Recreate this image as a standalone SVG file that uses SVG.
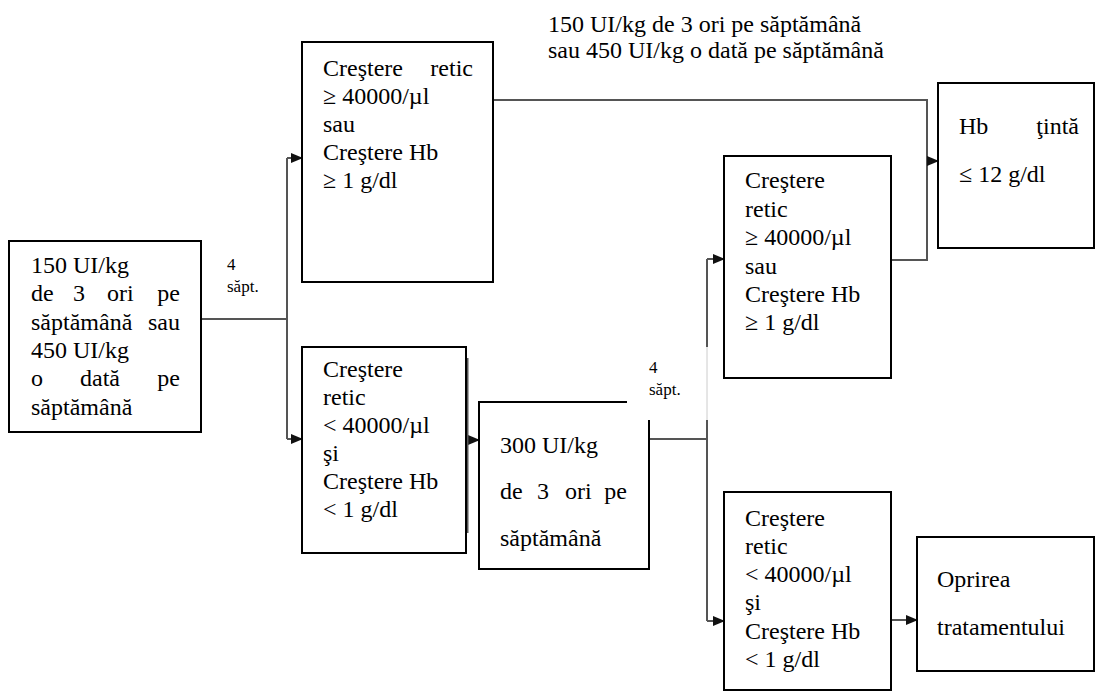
<svg xmlns="http://www.w3.org/2000/svg" width="1099" height="693" viewBox="0 0 1099 693">
<style>
.box{fill:#fff;stroke:#000;stroke-width:2}
.t{font-family:'Liberation Serif',Tinos,'Times New Roman',Times,'DejaVu Serif',serif;font-size:24px;fill:#000}
.s{font-family:'Liberation Serif',Tinos,'Times New Roman',Times,'DejaVu Serif',serif;font-size:17px;fill:#000}
.c{fill:none;stroke:#555;stroke-width:2}
.f{fill:none;stroke:#ccc;stroke-width:1}
</style>
<defs>
<marker id="ah" markerUnits="userSpaceOnUse" markerWidth="12" markerHeight="10" refX="11" refY="5" orient="auto">
<path d="M0,0 L12,5 L0,10 z" fill="#111"/>
</marker>
</defs>
<rect width="1099" height="693" fill="#fff"/>

<g id="connectors">
<path class="c" d="M201,319 H287"/>
<path class="c" d="M287,158 V439"/>
<path class="c" d="M287,158 H302" marker-end="url(#ah)"/>
<path class="c" d="M287,439 H302" marker-end="url(#ah)"/>
<path class="c" d="M466,440 H479" marker-end="url(#ah)"/>
<path class="c" d="M649,439 H707"/>
<path class="c" d="M707,259 V347"/>
<path class="f" d="M707,347 V420"/>
<path class="c" d="M707,420 V621"/>
<path class="c" d="M707,259 H724" marker-end="url(#ah)"/>
<path class="c" d="M707,621 H724" marker-end="url(#ah)"/>
<path class="c" d="M493,100 H927 V260 H891"/>
<path class="c" d="M927,161 H938" marker-end="url(#ah)"/>
<path class="c" d="M891,620 H917" marker-end="url(#ah)"/>
<path class="c" d="M467.5,358 V533"/>
</g>

<g id="label-top">
<text class="t" x="548" y="32">150 UI/kg de 3 ori pe săptămână</text>
<text class="t" x="548" y="58">sau 450 UI/kg o dată pe săptămână</text>
</g>
<g id="label-4sapt-1">
<text class="s" x="227" y="270">4</text>
<text class="s" x="227" y="292">săpt.</text>
</g>
<g id="label-4sapt-2">
<text class="s" x="649" y="373">4</text>
<text class="s" x="649" y="395">săpt.</text>
</g>

<g id="n1">
<rect class="box" x="9" y="241" width="192" height="191"/>
<text class="t" x="31" y="273">150 UI/kg</text>
<text class="t" y="301"><tspan x="31">de</tspan><tspan x="73">3</tspan><tspan x="107">ori</tspan><tspan x="180" text-anchor="end">pe</tspan></text>
<text class="t" y="330"><tspan x="31">săptămână</tspan><tspan x="180" text-anchor="end">sau</tspan></text>
<text class="t" x="31" y="358">450 UI/kg</text>
<text class="t" y="386"><tspan x="31">o</tspan><tspan x="80">dată</tspan><tspan x="180" text-anchor="end">pe</tspan></text>
<text class="t" x="31" y="415">săptămână</text>
</g>

<g id="n2">
<rect class="box" x="302" y="42" width="191" height="240"/>
<text class="t" y="76"><tspan x="323">Creştere</tspan><tspan x="473" text-anchor="end">retic</tspan></text>
<text class="t" x="323" y="104">≥ 40000/µl</text>
<text class="t" x="323" y="132">sau</text>
<text class="t" x="323" y="160">Creştere Hb</text>
<text class="t" x="323" y="188">≥ 1 g/dl</text>
</g>

<g id="n3">
<rect class="box" x="302" y="347" width="164" height="206"/>
<text class="t" x="323" y="377">Creştere</text>
<text class="t" x="323" y="405">retic</text>
<text class="t" x="323" y="433">&lt; 40000/µl</text>
<text class="t" x="323" y="461">şi</text>
<text class="t" x="323" y="489">Creştere Hb</text>
<text class="t" x="323" y="517">&lt; 1 g/dl</text>
</g>

<g id="n4">
<path class="box" d="M627,402 H479 V569 H649 V420"/>
<text class="t" x="500" y="453">300 UI/kg</text>
<text class="t" y="499"><tspan x="500">de</tspan><tspan x="537">3</tspan><tspan x="565">ori</tspan><tspan x="627" text-anchor="end">pe</tspan></text>
<text class="t" x="500" y="546">săptămână</text>
</g>

<g id="n5">
<rect class="box" x="724" y="156" width="167" height="222"/>
<text class="t" x="745" y="188">Creştere</text>
<text class="t" x="745" y="217">retic</text>
<text class="t" x="745" y="245">≥ 40000/µl</text>
<text class="t" x="745" y="274">sau</text>
<text class="t" x="745" y="302">Creştere Hb</text>
<text class="t" x="745" y="330">≥ 1 g/dl</text>
</g>

<g id="n6">
<rect class="box" x="938" y="83" width="156" height="165"/>
<text class="t" y="134"><tspan x="959">Hb</tspan><tspan x="1079" text-anchor="end">ţintă</tspan></text>
<text class="t" x="959" y="182">≤ 12 g/dl</text>
</g>

<g id="n7">
<rect class="box" x="724" y="492" width="167" height="198"/>
<text class="t" x="745" y="526">Creştere</text>
<text class="t" x="745" y="554">retic</text>
<text class="t" x="745" y="582">&lt; 40000/µl</text>
<text class="t" x="745" y="610">şi</text>
<text class="t" x="745" y="639">Creştere Hb</text>
<text class="t" x="745" y="667">&lt; 1 g/dl</text>
</g>

<g id="n8">
<rect class="box" x="917" y="537" width="177" height="134"/>
<text class="t" x="937" y="587">Oprirea</text>
<text class="t" x="937" y="635">tratamentului</text>
</g>
</svg>
